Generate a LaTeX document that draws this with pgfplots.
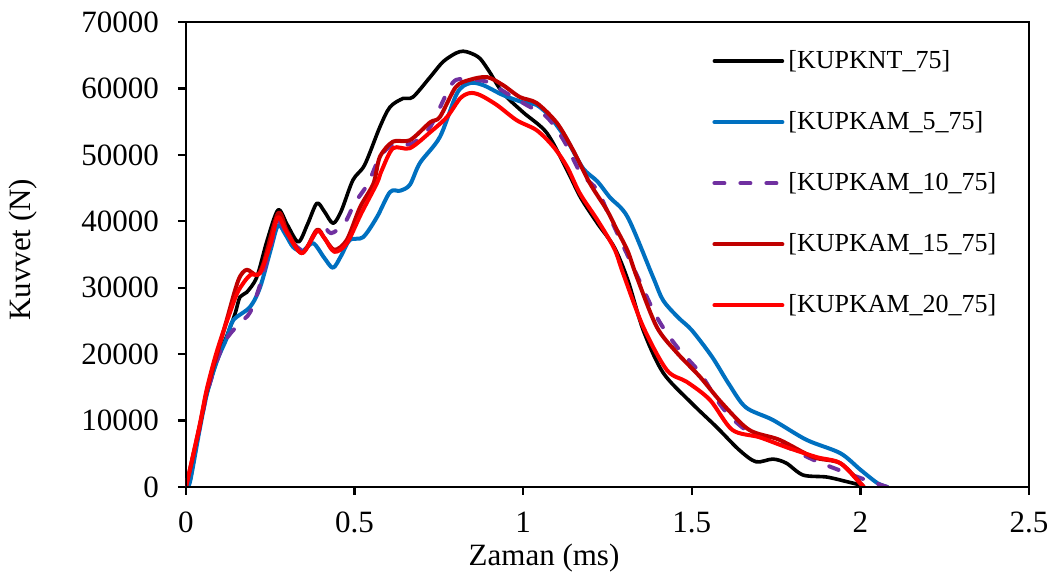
\documentclass[border=0pt]{standalone}
\usepackage{fontspec}
\setmainfont{Liberation Serif}
\usepackage{pgfplots}
\pgfplotsset{compat=1.18}
\definecolor{cblue}{HTML}{0070C0}
\definecolor{cpurple}{HTML}{7030A0}
\definecolor{cdred}{HTML}{C00000}
\definecolor{cred}{HTML}{FF0000}
\begin{document}
\begin{tikzpicture}
\begin{axis}[
  scale only axis, width=421.5pt, height=232.5pt,
  at={(0,0)}, anchor=south west,
  axis lines=box,
  xmin=0, xmax=2.5, ymin=0, ymax=70000,
  xtick={0,0.5,1,1.5,2,2.5},
  ytick={0,10000,20000,30000,40000,50000,60000,70000},
  scaled ticks=false,
  xticklabels={0,0.5,1,1.5,2,2.5},
  yticklabels={0,10000,20000,30000,40000,50000,60000,70000},
  tick align=outside, xtick pos=bottom, ytick pos=left,
  major tick length=4pt,
  axis line style={line width=1.2pt},
  every tick/.style={line width=1.2pt, black},
  tick label style={font=\fontsize{15.5}{18}\selectfont},
  xticklabel style={yshift=-5pt},
  yticklabel style={xshift=-6pt},
  /pgf/number format/assume math mode=true,
  xlabel={Zaman (ms)}, ylabel={Kuvvet (N)},
  label style={font=\fontsize{15.5}{18}\selectfont},
  xlabel style={at={(axis description cs:0.4247,-0.1527)}, anchor=center},
  ylabel style={at={(axis description cs:-0.1934,0.51)}, anchor=center},
  legend style={draw=none, fill=none, at={(rel axis cs:0.624,0.948)}, anchor=north west,
    font=\fontsize{13}{15}\selectfont, row sep=16pt, inner sep=0pt},
  legend cell align=left,
  legend image code/.code={\draw[#1] (0pt,0pt) -- (34pt,0pt);},
  every axis plot/.append style={line width=2pt, smooth, tension=0.5, line cap=round, line join=round},
]
\addplot[black, line width=1.8pt] coordinates {(0,0) (0.012,1000) (0.04,9000) (0.062,14100) (0.092,19100) (0.12,22600) (0.145,26000) (0.16,28600) (0.18,29300) (0.21,31600) (0.24,37000) (0.273,41700) (0.30,39500) (0.333,36900) (0.36,39500) (0.388,42700) (0.41,41500) (0.436,39700) (0.46,41500) (0.495,46200) (0.53,48500) (0.575,54200) (0.605,57200) (0.644,58500) (0.673,58700) (0.724,61700) (0.762,64000) (0.80,65300) (0.822,65600) (0.845,65300) (0.872,64500) (0.90,62500) (0.94,59300) (1.0,56400) (1.07,53300) (1.13,47700) (1.17,43600) (1.22,39700) (1.27,36100) (1.31,31200) (1.356,23600) (1.415,17200) (1.50,12600) (1.574,9000) (1.64,5600) (1.69,3800) (1.74,4200) (1.78,3600) (1.83,1800) (1.90,1500) (1.96,800) (2.0,300)};
\addlegendentry{[KUPKNT\_75]}
\addplot[cblue] coordinates {(0,0) (0.012,800) (0.04,8500) (0.062,14000) (0.092,19000) (0.12,22300) (0.14,25100) (0.19,27100) (0.22,30100) (0.25,35500) (0.273,39400) (0.295,38000) (0.318,36100) (0.345,35500) (0.377,36700) (0.41,34500) (0.436,33000) (0.46,34800) (0.486,37200) (0.525,37600) (0.566,40600) (0.605,44400) (0.635,44600) (0.664,45500) (0.694,48800) (0.753,52700) (0.804,59300) (0.842,60800) (0.881,60500) (0.94,59000) (1.0,57900) (1.04,57500) (1.08,55700) (1.13,52200) (1.177,48000) (1.22,46000) (1.257,43600) (1.31,40600) (1.385,31600) (1.415,28100) (1.46,25500) (1.50,23600) (1.56,19600) (1.61,15500) (1.66,12000) (1.74,10100) (1.84,7100) (1.94,5100) (2.0,2600) (2.05,600) (2.08,0)};
\addlegendentry{[KUPKAM\_5\_75]}
\addplot[cpurple, dash pattern=on 5pt off 8pt] coordinates {(0,0) (0.04,8800) (0.062,14000) (0.092,19000) (0.12,22300) (0.16,24700) (0.19,26300) (0.22,30500) (0.25,36000) (0.273,40000) (0.31,37200) (0.35,35700) (0.40,39400) (0.43,38200) (0.47,39700) (0.50,42700) (0.54,45700) (0.575,49700) (0.614,51500) (0.67,51700) (0.724,54200) (0.79,60800) (0.833,61300) (0.893,61000) (0.95,59300) (1.01,57500) (1.07,55700) (1.12,52200) (1.17,47300) (1.22,44700) (1.257,40600) (1.326,33100) (1.396,25600) (1.456,21100) (1.524,17200) (1.59,12000) (1.66,8600) (1.74,7100) (1.86,4100) (1.96,2100) (2.02,1000) (2.08,0)};
\addlegendentry{[KUPKAM\_10\_75]}
\addplot[cdred] coordinates {(0,0) (0.04,9000) (0.062,14500) (0.092,20000) (0.12,25000) (0.155,31100) (0.18,32700) (0.21,31900) (0.23,33700) (0.273,41200) (0.30,38500) (0.344,35200) (0.388,38700) (0.41,37500) (0.44,35700) (0.477,37200) (0.516,42100) (0.556,45700) (0.575,49700) (0.614,52000) (0.664,52200) (0.724,54900) (0.753,55700) (0.80,60200) (0.842,61300) (0.893,61700) (0.94,60500) (0.99,58700) (1.04,57800) (1.10,54800) (1.148,50700) (1.198,45700) (1.248,41700) (1.277,38800) (1.31,35500) (1.337,31600) (1.396,24100) (1.456,20200) (1.524,16600) (1.59,12600) (1.67,8600) (1.76,7100) (1.86,4500) (1.94,3600) (2.0,600) (2.01,0)};
\addlegendentry{[KUPKAM\_15\_75]}
\addplot[cred] coordinates {(0,0) (0.04,9200) (0.062,14800) (0.092,20500) (0.13,26200) (0.155,29500) (0.19,31900) (0.22,32200) (0.25,36500) (0.273,40600) (0.30,38200) (0.344,35200) (0.388,38500) (0.41,37500) (0.44,35400) (0.477,36700) (0.52,41200) (0.566,45700) (0.58,47600) (0.614,51000) (0.664,51000) (0.724,53400) (0.774,55700) (0.813,58500) (0.842,59300) (0.872,59000) (0.922,57500) (0.981,55200) (1.04,53700) (1.09,51200) (1.13,48200) (1.168,44200) (1.22,40200) (1.27,35900) (1.296,32200) (1.356,24100) (1.426,17600) (1.486,15800) (1.554,13100) (1.62,8600) (1.70,7500) (1.78,6000) (1.87,4500) (1.94,3600) (2.0,500) (2.01,0)};
\addlegendentry{[KUPKAM\_20\_75]}
\draw[line width=1.2pt] (rel axis cs:0,0) rectangle (rel axis cs:1,1);
\end{axis}
\pgfresetboundingbox
\path (-93pt,-45pt) rectangle (434.5pt,243.5pt);
\end{tikzpicture}
\end{document}
